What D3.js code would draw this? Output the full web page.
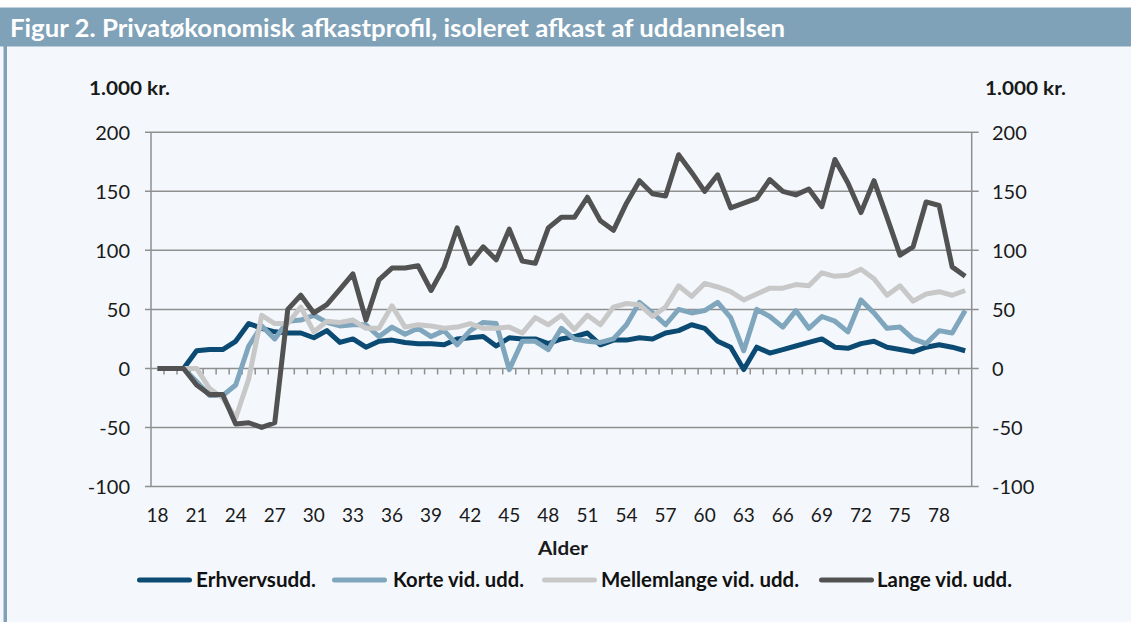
<!DOCTYPE html>
<html>
<head>
<meta charset="utf-8">
<script src="https://cdn.jsdelivr.net/npm/d3@7"></script>
<style>
  body { margin: 0; background: #fff; }
  svg { display: block; font-family: Lato, "Open Sans", sans-serif; }
</style>
</head>
<body>
<svg id="chart" width="1131" height="622"></svg>
<script>
// ages 18..80
const ages = d3.range(18, 81);
const tickAges = [18, 21, 24, 27, 30, 33, 36, 39, 42, 45, 48, 51, 54, 57, 60, 63, 66, 69, 72, 75, 78];
const yTicks = [-100, -50, 0, 50, 100, 150, 200];

const erhverv = [0, 0, 0, 15, 16, 16, 23, 38, 34, 31, 30, 30, 26, 32, 22, 25, 18, 23, 24, 22, 21, 21, 20, 25, 26, 27, 19, 26, 25, 25, 21, 25, 27, 30, 20, 24, 24, 26, 25, 30, 32, 37, 34, 23, 18, -1, 18, 13, 16, 19, 22, 25, 18, 17, 21, 23, 18, 16, 14, 18, 20, 18, 15];
const korte = [0, 0, 0, -11, -23, -23, -14, 19, 36, 25, 40, 41, 45, 39, 36, 37, 37, 27, 35, 29, 34, 27, 32, 20, 32, 39, 38, -1, 23, 23, 16, 34, 25, 23, 22, 25, 37, 56, 47, 37, 50, 47, 49, 56, 43, 15, 50, 44, 35, 49, 34, 44, 40, 31, 58, 47, 34, 35, 25, 21, 32, 30, 49];
const mellem = [0, 0, 0, 0, -17, -25, -42, -9, 45, 38, 38, 52, 31, 40, 39, 41, 34, 34, 53, 35, 37, 36, 34, 35, 38, 34, 34, 35, 30, 43, 37, 45, 33, 45, 37, 52, 55, 54, 44, 52, 70, 61, 72, 69, 65, 58, 63, 68, 68, 71, 70, 81, 78, 79, 84, 76, 62, 70, 57, 63, 65, 62, 66];
const lange = [0, 0, 0, -14, -22, -22, -47, -46, -50, -46, 50, 62, 47, 54, 67, 80, 41, 75, 85, 85, 87, 66, 86, 119, 89, 103, 92, 118, 91, 89, 119, 128, 128, 145, 125, 117, 140, 159, 148, 146, 181, 166, 150, 164, 136, 140, 144, 160, 150, 147, 152, 137, 177, 157, 132, 159, 128, 96, 103, 141, 138, 86, 78];

const series = [
  { name: "Erhvervsudd.", values: erhverv, color: "#0b4a72" },
  { name: "Korte vid. udd.", values: korte, color: "#7fa6bd" },
  { name: "Mellemlange vid. udd.", values: mellem, color: "#c8c8c8" },
  { name: "Lange vid. udd.", values: lange, color: "#525252" }
];

const svg = d3.select("#chart");
const gridColor = "#8f8f8f";

// background + title bar + left stripe
svg.append("rect").attr("x", 0).attr("y", 46).attr("width", 1131).attr("height", 576).attr("fill", "#f4f8fc");
svg.append("rect").attr("x", 0).attr("y", 7.5).attr("width", 1131).attr("height", 39).attr("fill", "#7fa2b8");
svg.append("rect").attr("x", 3.5).attr("y", 46).attr("width", 3.5).attr("height", 576).attr("fill", "#7fa2b8");
svg.append("text")
  .attr("x", 10).attr("y", 37)
  .attr("fill", "#fff")
  .attr("font-size", 25).attr("font-weight", 700)
  .attr("textLength", 775).attr("lengthAdjust", "spacingAndGlyphs")
  .text("Figur 2. Privatøkonomisk afkastprofil, isoleret afkast af uddannelsen");

const left = 151, right = 971.7;
const x = d3.scalePoint().domain(ages).range([left, right]).padding(0.5);
const band = d3.scaleBand().domain(ages).range([left, right]);
const y = d3.scaleLinear().domain([-100, 200]).range([486.5, 132.3]);

// gridlines with outer tick stubs on both sides
svg.append("g").selectAll("line")
  .data(yTicks).enter().append("line")
  .attr("x1", left - 6).attr("x2", right + 7)
  .attr("y1", d => y(d)).attr("y2", d => y(d))
  .attr("stroke", gridColor).attr("stroke-width", 1.5);

// vertical axis lines
[left, right].forEach(xx => {
  svg.append("line")
    .attr("x1", xx).attr("x2", xx)
    .attr("y1", y(200)).attr("y2", y(-100))
    .attr("stroke", gridColor).attr("stroke-width", 1.5);
});

// category ticks on the zero line (between categories)
svg.append("g").selectAll("line")
  .data(ages.slice(1)).enter().append("line")
  .attr("x1", d => band(d)).attr("x2", d => band(d))
  .attr("y1", y(0)).attr("y2", y(0) + 6)
  .attr("stroke", gridColor).attr("stroke-width", 1.5);

// y tick labels
svg.append("g").selectAll("text")
  .data(yTicks).enter().append("text")
  .attr("x", 130).attr("y", d => y(d)).attr("dy", "0.36em")
  .attr("text-anchor", "end").attr("font-size", 20).attr("fill", "#1a1a1a")
  .text(d => d);
svg.append("g").selectAll("text")
  .data(yTicks).enter().append("text")
  .attr("x", 992).attr("y", d => y(d)).attr("dy", "0.36em")
  .attr("font-size", 20).attr("fill", "#1a1a1a")
  .text(d => d);

svg.append("text").attr("x", 89).attr("y", 95)
  .attr("font-size", 19).attr("font-weight", 700).attr("fill", "#1a1a1a")
  .attr("textLength", 81).attr("lengthAdjust", "spacingAndGlyphs").text("1.000 kr.");
svg.append("text").attr("x", 985).attr("y", 95)
  .attr("font-size", 19).attr("font-weight", 700).attr("fill", "#1a1a1a")
  .attr("textLength", 81).attr("lengthAdjust", "spacingAndGlyphs").text("1.000 kr.");

// x labels
svg.append("g").selectAll("text")
  .data(tickAges).enter().append("text")
  .attr("x", d => x(d)).attr("y", 522)
  .attr("text-anchor", "middle").attr("font-size", 19).attr("fill", "#1a1a1a")
  .text(d => d);
svg.append("text").attr("x", 538).attr("y", 555)
  .attr("font-size", 19).attr("font-weight", 700).attr("fill", "#1a1a1a")
  .attr("textLength", 50).attr("lengthAdjust", "spacingAndGlyphs").text("Alder");

// lines
const line = d3.line()
  .x((d, i) => x(ages[i]))
  .y(d => y(d));

svg.append("g").selectAll("path")
  .data(series).enter().append("path")
  .attr("d", d => line(d.values))
  .attr("fill", "none")
  .attr("stroke", d => d.color)
  .attr("stroke-width", 5)
  .attr("stroke-linejoin", "round");

// legend
const legendPos = [
  { x1: 137, x2: 192, tx: 196, tw: 120 },
  { x1: 332, x2: 387, tx: 393, tw: 131 },
  { x1: 542, x2: 597, tx: 601, tw: 198 },
  { x1: 819, x2: 874, tx: 877, tw: 135 }
];
const lg = svg.append("g").selectAll("g")
  .data(series).enter().append("g");
lg.append("line")
  .attr("x1", (d, i) => legendPos[i].x1 + 2.5).attr("x2", (d, i) => legendPos[i].x2 - 2.5)
  .attr("y1", 580).attr("y2", 580)
  .attr("stroke", d => d.color).attr("stroke-width", 5).attr("stroke-linecap", "round");
lg.append("text")
  .attr("x", (d, i) => legendPos[i].tx).attr("y", 587)
  .attr("font-size", 20).attr("font-weight", 700).attr("fill", "#111")
  .attr("textLength", (d, i) => legendPos[i].tw).attr("lengthAdjust", "spacingAndGlyphs")
  .text(d => d.name);
</script>
</body>
</html>
